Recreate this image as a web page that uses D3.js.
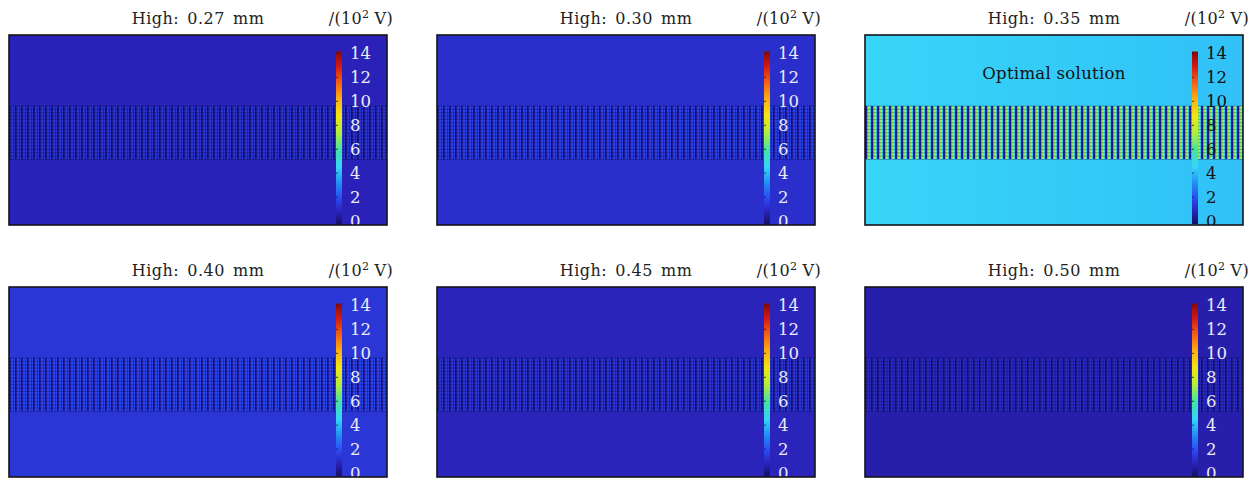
<!DOCTYPE html>
<html>
<head>
<meta charset="utf-8">
<script src="https://cdn.jsdelivr.net/npm/d3@7"></script>
<style>
  html, body { margin: 0; padding: 0; background: #fff; }
  svg { display: block; }
  text { font-family: "DejaVu Serif", "Liberation Serif", serif; }
</style>
</head>
<body>
<svg id="chart" width="1260" height="478"></svg>
<script>
// Electrode height for each simulated case (mm)
const heights = ["0.27", "0.30", "0.35", "0.40", "0.45", "0.50"];
// Potential of the surrounding medium at the left and right sides, in 10^2 V
const backgroundLeft = [1.0, 1.35, 4.65, 1.55, 1.05, 0.85];
const backgroundRight = [1.0, 1.35, 4.25, 1.55, 1.05, 0.85];
// Potential across one repeat of the electrode array, in 10^2 V
const stripeProfile = [
  [0.05, 0.45, 1.45, 1.5, 0.85, 1.5],
  [0.1, 0.6, 1.8, 1.85, 1.1, 1.85],
  [0.4, 0.6, 4.2, 7.0, 7.4, 4.6],
  [0.15, 0.7, 1.95, 2.0, 1.2, 2.0],
  [0.05, 0.5, 1.5, 1.55, 0.9, 1.55],
  [0.02, 0.4, 1.2, 1.25, 0.75, 1.25]
];
const stripePeriods = 63;
const bandRows = 16;
const optimalIndex = 2;
// Colour bar ticks, in 10^2 V
const colorTicks = [0, 2, 4, 6, 8, 10, 12, 14];
// Rainbow colour map
const rainbowDomain = [0, 1, 2, 3.2, 4.6, 6, 7.4, 8.8, 10.2, 11.6, 12.8, 14];
const rainbowColors = ["#15106a", "#2a22b8", "#2b47f0", "#2188f2", "#36d4fa",
                       "#44e4a4", "#b2ee3c", "#f2e612", "#fcac12", "#f45a14",
                       "#d41a10", "#880808"];

const color = d3.scaleLinear().domain(rainbowDomain).range(rainbowColors)
  .interpolate(d3.interpolateRgb).clamp(true);

const svg = d3.select("#chart");
const defs = svg.append("defs");

const panelW = 378, panelH = 190;
const colX = [9, 437, 865];
const rowY = [35, 287];

// vertical colour-bar gradient
const grad = defs.append("linearGradient").attr("id", "cbar")
  .attr("x1", 0).attr("y1", 1).attr("x2", 0).attr("y2", 0);
grad.selectAll("stop").data(rainbowDomain).join("stop")
  .attr("offset", d => d / 14)
  .attr("stop-color", d => color(d));

heights.forEach((h, i) => {
  const x0 = colX[i % 3], y0 = rowY[Math.floor(i / 3)];
  const g = svg.append("g").attr("transform", `translate(${x0},${y0})`);
  const clipId = "clip" + i;
  defs.append("clipPath").attr("id", clipId)
    .append("rect").attr("width", panelW).attr("height", panelH);

  const fy = d3.scaleLinear().domain([0, 1]).range([0, panelH]);
  const body = g.append("g").attr("clip-path", `url(#${clipId})`);

  // surrounding field, shaded from left to right
  const bgId = "bg" + i;
  const bg = defs.append("linearGradient").attr("id", bgId)
    .attr("x1", 0).attr("y1", 0).attr("x2", 1).attr("y2", 0);
  bg.append("stop").attr("offset", 0).attr("stop-color", color(backgroundLeft[i]));
  bg.append("stop").attr("offset", 1).attr("stop-color", color(backgroundRight[i]));
  body.append("rect")
    .attr("width", panelW).attr("height", panelH)
    .attr("fill", `url(#${bgId})`);

  // electrode band: columns coloured from the repeat profile
  const prof = stripeProfile[i];
  const nCols = stripePeriods * prof.length;
  const bx = d3.scaleLinear().domain([0, nCols]).range([0, panelW]);
  const bandTop = fy(0.374), bandBot = fy(0.655);
  const cols = d3.range(nCols).map(k => ({ k, v: prof[k % prof.length] }));
  body.append("g").attr("shape-rendering", "crispEdges")
    .selectAll("rect").data(cols).join("rect")
    .attr("x", d => bx(d.k))
    .attr("width", bx(1) - bx(0))
    .attr("y", bandTop).attr("height", bandBot - bandTop)
    .attr("fill", d => color(d.v));

  // mesh rows across the band
  const by = d3.scaleLinear().domain([0, bandRows]).range([bandTop, bandBot]);
  body.append("g").selectAll("rect").data(d3.range(bandRows + 1)).join("rect")
    .attr("x", 0).attr("width", panelW)
    .attr("y", r => by(r) - 0.5).attr("height", 1)
    .attr("fill", "#0b0b3a").attr("opacity", i === optimalIndex ? 0.3 : 0.35);

  // colour bar
  const cy = d3.scaleLinear().domain([0, 14]).range([186, 18.5]);
  const barX = panelW - 51;
  body.append("rect")
    .attr("x", barX).attr("y", cy(14) - 2)
    .attr("width", 6).attr("height", cy(0) - cy(14) + 5)
    .attr("fill", "url(#cbar)");
  body.append("g").selectAll("line").data(colorTicks).join("line")
    .attr("x1", barX).attr("x2", barX + 2)
    .attr("y1", d => cy(d)).attr("y2", d => cy(d))
    .attr("stroke", "#1a1a40").attr("stroke-width", 0.8);
  const labelFill = i === optimalIndex ? "#111" : "#eceaf6";
  body.append("g").selectAll("text").data(colorTicks).join("text")
    .attr("x", barX + 14).attr("y", d => cy(d))
    .attr("dy", "0.36em")
    .attr("font-size", 16.5)
    .attr("fill", labelFill)
    .text(d => d);

  if (i === optimalIndex) {
    body.append("text")
      .attr("x", panelW / 2).attr("y", 44)
      .attr("text-anchor", "middle")
      .attr("font-size", 16.5)
      .attr("letter-spacing", 0.3)
      .attr("fill", "#111")
      .text("Optimal solution");
  }

  // frame
  g.append("rect")
    .attr("width", panelW).attr("height", panelH)
    .attr("fill", "none").attr("stroke", "#141418").attr("stroke-width", 1.6);

  // headings
  g.append("text")
    .attr("x", panelW / 2).attr("y", -11)
    .attr("text-anchor", "middle")
    .attr("font-size", 16)
    .attr("letter-spacing", 0.5)
    .attr("word-spacing", 2.5)
    .attr("fill", "#222")
    .text(`High: ${h} mm`);
  const unit = g.append("text")
    .attr("x", panelW + 6).attr("y", -11)
    .attr("text-anchor", "end")
    .attr("font-size", 16)
    .attr("letter-spacing", 0.3)
    .attr("fill", "#222");
  unit.append("tspan").text("/(10");
  unit.append("tspan").attr("font-size", 11).attr("dy", -6).text("2");
  unit.append("tspan").attr("dy", 6).text(" V)");
});
</script>
</body>
</html>
